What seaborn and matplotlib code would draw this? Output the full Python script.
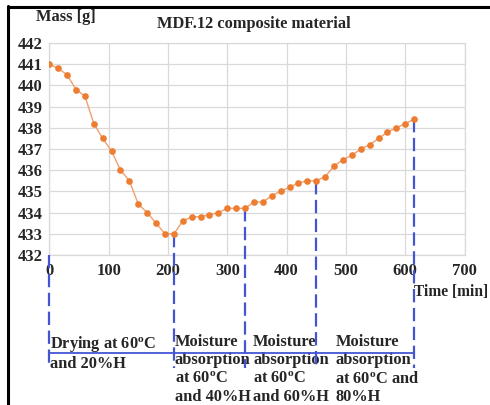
import matplotlib
matplotlib.use("Agg")
import matplotlib.pyplot as plt
from matplotlib.lines import Line2D
import seaborn as sns
import pandas as pd

# Mass of the MDF.12 sample recorded every 15 minutes
time_min = [0, 15, 30, 45, 60, 75, 90, 105, 120, 135, 150, 165, 180, 195, 210,
            225, 240, 255, 270, 285, 300, 315, 330, 345, 360, 375, 390, 405,
            420, 435, 450, 465, 480, 495, 510, 525, 540, 555, 570, 585, 600, 615]
mass_g = [441.0, 440.8, 440.5, 439.8, 439.5, 438.2, 437.5, 436.9, 436.0, 435.5,
          434.4, 434.0, 433.5, 433.0, 433.0,
          433.6, 433.8, 433.8, 433.9, 434.0, 434.2, 434.2, 434.2, 434.5, 434.5,
          434.8, 435.0, 435.2, 435.4, 435.5, 435.5, 435.7, 436.2, 436.5, 436.7,
          437.0, 437.2, 437.5, 437.8, 438.0, 438.2, 438.4]

# Test stages
stage_starts = [0, 210, 330, 450, 615]
stage_labels = [
    "Drying at 60$^{o}$C\nand 20%H",
    "Moisture\nabsorption\nat 60$^{o}$C\nand 40%H",
    "Moisture\nabsorption\nat 60$^{o}$C\nand 60%H",
    "Moisture\nabsorption\nat 60$^{o}$C and\n80%H",
]
label_shift_px = [1, 1, 8, 19]

x_ticks = [0, 100, 200, 300, 400, 500, 600, 700]
y_ticks = [432, 433, 434, 435, 436, 437, 438, 439, 440, 441, 442]

sns.set_style("whitegrid")
plt.rcParams["font.family"] = ["Liberation Serif", "DejaVu Serif"]
plt.rcParams["font.weight"] = "bold"
plt.rcParams["mathtext.fontset"] = "custom"
plt.rcParams["mathtext.rm"] = "Liberation Serif:bold"
plt.rcParams["mathtext.it"] = "Liberation Serif:bold"
plt.rcParams["mathtext.bf"] = "Liberation Serif:bold"

W, H = 490, 405
fig = plt.figure(figsize=(W / 100, H / 100), dpi=100)
ax_left, ax_right, ax_bottom, ax_top = 49.3, 464.6, 255, 43
ax = fig.add_axes([ax_left / W, 1 - ax_bottom / H,
                   (ax_right - ax_left) / W, (ax_bottom - ax_top) / H])

df = pd.DataFrame({"Time [min]": time_min, "Mass [g]": mass_g})
orange = "#ED7D31"
sns.lineplot(data=df, x="Time [min]", y="Mass [g]", ax=ax, color="#F0A070",
             linewidth=1.0, marker="o", markersize=4.8, markeredgewidth=0,
             markerfacecolor=orange, zorder=5)

ax.set_xlim(0, 700)
ax.set_ylim(432, 442)
ax.set_xticks(x_ticks)
ax.set_yticks(y_ticks)
ax.grid(True, color="#D9D9D9", linewidth=0.9)
for s in ax.spines.values():
    s.set_color("#D9D9D9")
    s.set_linewidth(0.9)
ax.tick_params(axis="both", length=0, labelsize=12)
ax.tick_params(axis="x", pad=6)
ax.tick_params(axis="y", pad=5)
for lab in ax.get_xticklabels() + ax.get_yticklabels():
    lab.set_fontweight("bold")

ax.set_xlabel("")
ax.set_ylabel("")
span_px = ax_right - ax_left
ax.text((414 - ax_left) / span_px, -(292 - ax_bottom) / (ax_bottom - ax_top),
        "Time [min]", transform=ax.transAxes, ha="left", va="center",
        fontsize=11.2, fontweight="bold")
ax.text((66 - ax_left) / span_px, (ax_bottom - 17) / (ax_bottom - ax_top),
        "Mass [g]", transform=ax.transAxes, ha="center", va="center",
        fontsize=11.8, fontweight="bold", clip_on=False)
ax.text((254 - ax_left) / span_px, (ax_bottom - 23.5) / (ax_bottom - ax_top),
        "MDF.12 composite material", transform=ax.transAxes, ha="center",
        va="center", fontsize=11.8, fontweight="bold")

# Stage boundaries drawn below the axis (data units extend past the y-limits)
px_per_unit = (ax_bottom - ax_top) / 10.0
y_line_end = 432 - (368 - ax_bottom) / px_per_unit
y_hline = 432 - (353 - ax_bottom) / px_per_unit
y_text_top = 432 - (334 - ax_bottom) / px_per_unit

blue = "#4455D4"
stage_tops = [432] + [mass_g[time_min.index(t)] for t in stage_starts[1:]]
for t, top in zip(stage_starts, stage_tops):
    ax.plot([t, t], [top, y_line_end], color=blue, linewidth=1.6,
            dashes=(6, 2.5), clip_on=False, zorder=4)
ax.plot([stage_starts[0], stage_starts[-1]], [y_hline, y_hline], color=blue,
        linewidth=1.3, clip_on=False, zorder=4)

for t, lbl, dx in zip(stage_starts[:-1], stage_labels, label_shift_px):
    ax.annotate(lbl, xy=(t, y_text_top), xytext=(dx, 0),
                textcoords="offset pixels", ha="left", va="top",
                fontsize=11.8, fontweight="bold", linespacing=1.2,
                annotation_clip=False)

# Frame lines along the left and top edges of the figure
fig.add_artist(Line2D([7.5 / W, 7.5 / W], [0, 1 - 6 / H], color="black",
                      linewidth=2.2, transform=fig.transFigure))
fig.add_artist(Line2D([7.5 / W, 1], [1 - 6.5 / H, 1 - 6.5 / H], color="black",
                      linewidth=2.2, transform=fig.transFigure))

fig.savefig("out.png", dpi=100)
